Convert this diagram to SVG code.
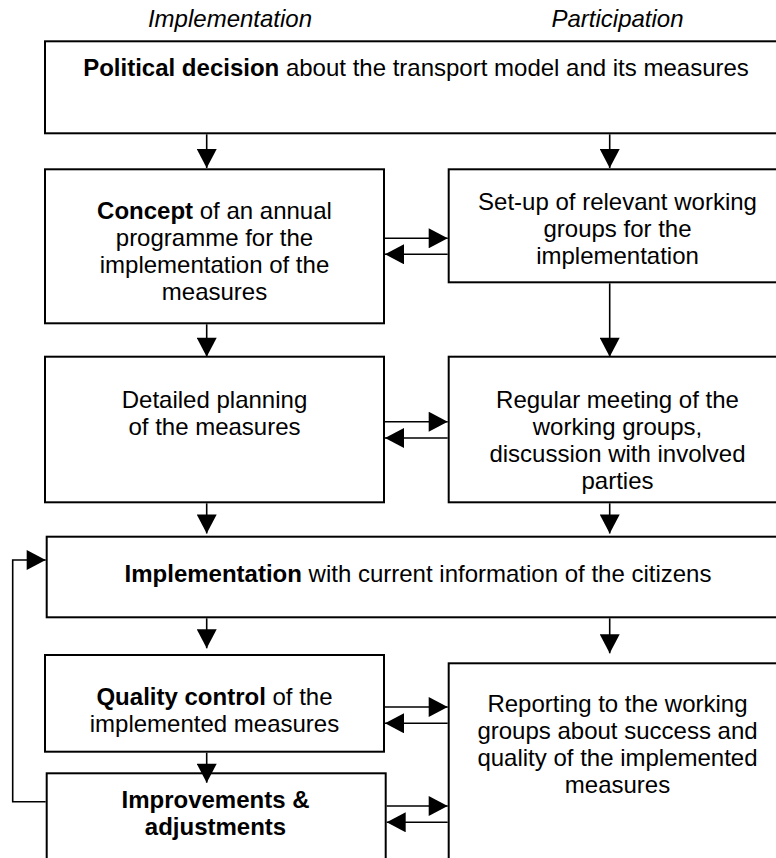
<svg xmlns="http://www.w3.org/2000/svg" width="776" height="858" viewBox="0 0 776 858">
<style>
text{font-family:"Liberation Sans",Arial,sans-serif;font-size:24px;fill:#000;text-anchor:middle}
.h{font-style:italic}
.b{font-weight:bold}
.box{fill:#fff;stroke:#000;stroke-width:2}
.c{fill:none;stroke:#000;stroke-width:1.6}
.a{marker-end:url(#ah)}
</style>
<defs>
<marker id="ah" markerUnits="userSpaceOnUse" markerWidth="20" markerHeight="20" viewBox="0 0 19 20" refX="19" refY="10" orient="auto">
<path d="M0,0 L19,10 L0,20 z" fill="#000"/>
</marker>
</defs>
<rect width="776" height="858" fill="#fff"/>
<g id="headers">
<text class="h" x="230" y="27">Implementation</text>
<text class="h" x="617.5" y="27">Participation</text>
</g>
<g id="political">
<rect class="box" x="45" y="41.3" width="742" height="92"/>
<text x="416" y="76"><tspan class="b">Political decision</tspan> about the transport model and its measures</text>
</g>
<g id="concept">
<rect class="box" x="45" y="169.3" width="339" height="154"/>
<text x="214.5" y="219.3"><tspan class="b">Concept</tspan> of an annual</text>
<text x="214.5" y="246.3">programme for the</text>
<text x="214.5" y="273.3">implementation of the</text>
<text x="214.5" y="300.3">measures</text>
</g>
<g id="setup">
<rect class="box" x="448.7" y="169.3" width="340" height="113"/>
<text x="617.5" y="210">Set-up of relevant working</text>
<text x="617.5" y="237">groups for the</text>
<text x="617.5" y="264">implementation</text>
</g>
<g id="detailed">
<rect class="box" x="45" y="356.7" width="339" height="145.6"/>
<text x="214.5" y="408">Detailed planning</text>
<text x="214.5" y="435">of the measures</text>
</g>
<g id="regular">
<rect class="box" x="448.7" y="356.7" width="340" height="145.6"/>
<text x="617.5" y="408">Regular meeting of the</text>
<text x="617.5" y="435">working groups,</text>
<text x="617.5" y="462">discussion with involved</text>
<text x="617.5" y="489">parties</text>
</g>
<g id="implementation">
<rect class="box" x="46.7" y="536.7" width="742" height="80.6"/>
<text x="418" y="581.7"><tspan class="b">Implementation</tspan> with current information of the citizens</text>
</g>
<g id="quality">
<rect class="box" x="45" y="655" width="339" height="96.7"/>
<text x="214.5" y="705"><tspan class="b">Quality control</tspan> of the</text>
<text x="214.5" y="732">implemented measures</text>
</g>
<g id="improvements">
<rect class="box" x="46.7" y="773.3" width="339" height="120"/>
<text class="b" x="215.5" y="808.3">Improvements &amp;</text>
<text class="b" x="215.5" y="835.3">adjustments</text>
</g>
<g id="reporting">
<rect class="box" x="448.7" y="663.3" width="340" height="220"/>
<text x="617.5" y="711.7">Reporting to the working</text>
<text x="617.5" y="738.7">groups about success and</text>
<text x="617.5" y="765.7">quality of the implemented</text>
<text x="617.5" y="792.7">measures</text>
</g>
<g id="connectors">
<line class="c a" x1="206.7" y1="134.3" x2="206.7" y2="168"/>
<line class="c a" x1="609.7" y1="134.3" x2="609.7" y2="168"/>
<line class="c a" x1="385" y1="238.3" x2="447.7" y2="238.3"/>
<line class="c a" x1="447.7" y1="254.3" x2="385" y2="254.3"/>
<line class="c a" x1="206.7" y1="324.3" x2="206.7" y2="356.7"/>
<line class="c a" x1="609.7" y1="283.3" x2="609.7" y2="356.7"/>
<line class="c a" x1="385" y1="421.7" x2="447.7" y2="421.7"/>
<line class="c a" x1="447.7" y1="438" x2="385" y2="438"/>
<line class="c a" x1="206.7" y1="503.3" x2="206.7" y2="533.5"/>
<line class="c a" x1="609.7" y1="503.3" x2="609.7" y2="533.5"/>
<line class="c a" x1="206.7" y1="618.3" x2="206.7" y2="648.3"/>
<line class="c a" x1="609.7" y1="618.3" x2="609.7" y2="653.3"/>
<line class="c a" x1="385" y1="707" x2="447.7" y2="707"/>
<line class="c a" x1="447.7" y1="723.3" x2="385" y2="723.3"/>
<line class="c a" x1="206.7" y1="752.7" x2="206.7" y2="782.7"/>
<line class="c a" x1="386.7" y1="806" x2="447.7" y2="806"/>
<line class="c a" x1="447.7" y1="822.3" x2="386.7" y2="822.3"/>
<polyline class="c a" points="45.7,801.7 12.7,801.7 12.7,560 45.7,560"/>
</g>
</svg>
